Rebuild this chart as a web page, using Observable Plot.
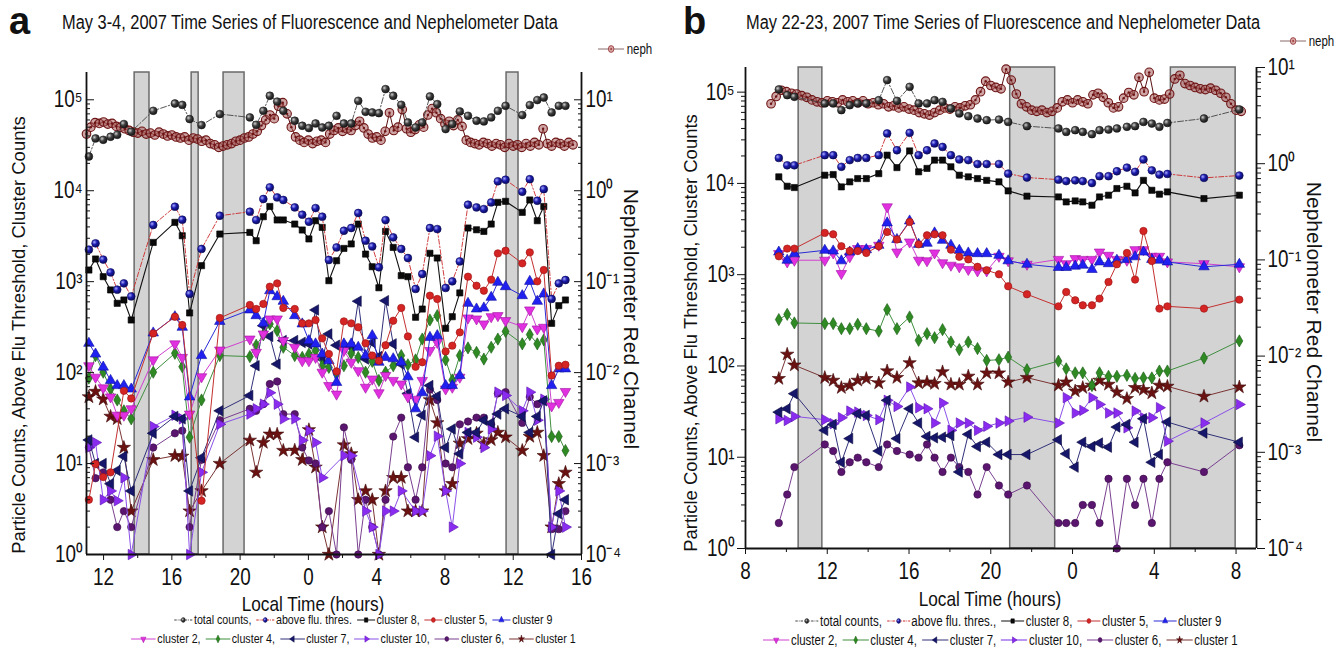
<!DOCTYPE html>
<html><head><meta charset="utf-8">
<script src="https://cdn.jsdelivr.net/npm/d3@7"></script>
<script src="https://cdn.jsdelivr.net/npm/@observablehq/plot@0.6"></script>
<style>
html,body{margin:0;padding:0;background:#fff;}
body{width:1344px;height:653px;position:relative;overflow:hidden;font-family:"Liberation Sans",Arial,sans-serif;color:#111;}
.abs{position:absolute;white-space:nowrap;line-height:1;}
.letter{font-weight:bold;font-size:38px;}
.title{font-size:20px;transform:scaleX(0.82);transform-origin:0 50%;}
.xlab{font-size:21px;}
.leg{display:flex;align-items:center;transform:translateX(-50%) scaleX(0.82);}
.leg .it{display:flex;align-items:center;margin-right:5px;}
.leg svg{margin-right:1px;}
</style></head><body>
<svg width="0" height="0" style="position:absolute">
<defs>
<radialGradient id="gSph" cx="35%" cy="35%" r="70%"><stop offset="0%" stop-color="#cfcfcf"/><stop offset="45%" stop-color="#404040"/><stop offset="100%" stop-color="#121212"/></radialGradient>
<radialGradient id="bSph" cx="35%" cy="35%" r="70%"><stop offset="0%" stop-color="#a8a8ff"/><stop offset="45%" stop-color="#1c1cb0"/><stop offset="100%" stop-color="#0a0a55"/></radialGradient>
</defs></svg>
<div id="pa" class="abs" style="left:0;top:0"></div>
<div id="pb" class="abs" style="left:672px;top:0"></div>
<script>
// ---------------- DATA: panel a (May 3-4) ----------------
const timeA = [11.14, 11.53, 11.98, 12.41, 12.80, 13.19, 13.62, 14.91, 16.18, 16.61, 17.04, 17.74, 18.81, 20.57, 20.94, 21.36, 21.74, 22.17, 22.53, 23.2, 23.64, 24.03, 24.42, 24.81, 25.2, 25.65, 26.08, 26.51, 26.92, 27.35, 27.74, 28.13, 28.52, 28.97, 29.44, 29.83, 30.28, 30.67, 31.12, 31.55, 32.04, 32.43, 32.87, 33.35, 33.85, 34.28, 34.71, 35.1, 35.55, 36.53, 36.97, 37.41, 37.79, 38.25, 38.67, 39.06];
const totalA = [23800, 37600, 36300, 39200, 41200, 54100, 44500, 75700, 91000, 87900, 61400, 52700, 69600, 64000, 53100, 75700, 110700, 95600, 75700, 58800, 51800, 48900, 54900, 49600, 51800, 66700, 54900, 54900, 97500, 73800, 72600, 71300, 131000, 110700, 88100, 56300, 49600, 56300, 108800, 89600, 47600, 54100, 74400, 66700, 58800, 57800, 64000, 75700, 85900, 67900, 87500, 99300, 106000, 72600, 85900, 85900];
const aboveA = [2250, 2640, 1750, 1265, 817, 958, 689, 4200, 6670, 4800, 733, 2290, 5310, 5880, 4760, 8110, 10900, 8450, 7910, 6560, 5450, 4560, 6450, 5180, 1730, 2380, 3630, 3890, 5690, 2820, 2440, 1440, 4760, 3070, 2290, 1820, 832, 1214, 3890, 3790, 853, 1008, 1670, 7020, 6560, 6290, 7440, 12700, 13200, 9750, 13400, 7760, 10400, 646, 958, 1043];
const c8A = [1343, 1775, 1135, 811, 578, 629, 379, 2700, 4490, 3200, 453, 1500, 3340, 3480, 2820, 5180, 6710, 4770, 4770, 4300, 3700, 2950, 4680, 3950, 1025, 1700, 2320, 2600, 4300, 2010, 1460, 857, 3570, 2380, 1165, 1135, 406, 500, 2050, 1820, 307, 412, 752, 3890, 3720, 3570, 4300, 7450, 7640, 5780, 7910, 4680, 6710, 348, 545, 629];
const c5A = [4, 9.9, 7.1, 8, null, 63, 52, 270, 412, 334, null, 3.9, 399, 555, 501, 569, 881, 958, 514, 501, 348, 348, 379, 238, 160, 103, 366, 348, 315, 210, 154, 135, 200, 372, 514, 250, 116, 130, 702, 645, 171, 198, 277, 1135, 903, 796, 1052, 2048, 2190, 1590, 2100, 1008, 1343, 93, 119, 122];
const c9A = [210, 160, 115, 82, 72, 72, 66, 273, 412, 315, 54, 154, 366, 489, 423, 350, 796, 684, 608, 423, 343, 225, 207, 160, 135, 78, 207, 207, 190, 154, 255, 130, 147, 142, 130, 90, 40, 60, 244, 255, 72, 72, 93, 578, 501, 514, 673, 984, 881, 702, 1008, 608, 733, 72, 110, 110];
const c2A = [119, 89, 68, 54, 34, 34, 40, 138, 207, 147, 35, 90, 177, 234, 167, 266, 389, 389, 225, 190, 135, 135, 147, 101, 72, 58, 175, 130, 105, 69, 85, 60, 93, 82, 75, 54, 51, 82, 175, 215, 66, 69, 89, 399, 389, 343, 412, 423, 373, 320, 489, 302, 315, 43, 47, 62];
const c4A = [87, 154, 101, 66, 50, 38, 31, 101, 163, 116, 19.5, 50, 154, 150, 200, 260, 343, 290, 190, 154, 147, 160, 175, 119, 114, 97, 119, 163, 147, 101, 133, 82, 101, 119, 154, 122, 138, 234, 379, 423, 138, 83, 154, 187, 167, 141, 190, 234, 284, 207, 262, 207, 229, 19.8, 19.8, 13.9];
const c7A = [18.2, 10, 10, 6, 8.4, 12, 5, 21.5, 33, 31, 5, 11.6, 38, 56, 119, 328, 250, 124, 225, 225, 215, 207, 489, 141, 266, 200, 190, 190, 610, 141, 215, 150, 618, 207, 124, 59, 19.5, 34, 72, 55, 15, 24, 12.8, 22, 22, 30, 28, 35, 40, 33, 22, 33, 49, 1, 2.8, 4];
const c10A = [15, 17, 4, 5, 3.9, 7, 1, 25.5, 34, 31, 1, 8, 27, 35, 40, 45, 60, 45, 31, 31, 18, 23, 17, 7, null, null, 12.2, 12.2, null, 3, 2, 1, 3, 3, 5, null, 3, 3, 12.2, 20, 5, 2, 10, 22, 19.5, 15, 24, 61, 56, 38, 61, 30, 51, 2, 5, 2];
const c6A = [15, 6.9, 8, 4, 2, 3, 2, 15, 21.5, 23, 2, 11, 30, 40, 38, 45, 75, 80, 35, 35, 15, 10.8, 10, 2, 3, 1, 25, 11, 1, 4, 2, 1, 4, 19.8, 32, 9.1, 4, 9.1, 65, 50, 10, 9.1, 27, 29, 32, 32, 27, 59, 61, 28, 54, 45, 50, 1.9, 1.9, 3];
const c1A = [54, 62, 51, 33, 31, 15, 3, 11, 12.2, 12, 3, 5, 10, 18, 8, 17, 21, 21, 13.9, 14, 11, 23.5, 9.1, 2, 1, null, 16, 12.8, 4, 5, 4, 1, 5, 7, 7, 3, 3, 3, 50, 28, 5, 6, 16.7, 18.7, 21.5, 16.7, 18.2, 22, 19.5, 13.9, 19.8, 22, 12.2, 2, 6, 8];
// nephelometer red channel [local hour, value]
const nephA = [[11.0,4.2],[11.25,5.0],[11.5,5.6],[11.75,5.5],[12.0,5.7],[12.25,5.4],[12.5,5.5],[12.75,5.1],[13.0,5.0],[13.25,4.8],[13.5,4.6],[13.75,4.4],[14.0,4.3],[14.25,4.5],[14.5,4.2],[14.75,4.3],[15.0,4.1],[15.25,4.4],[15.5,4.2],[15.75,4.0],[16.0,4.1],[16.25,3.9],[16.5,3.8],[16.75,3.9],[17.0,3.6],[17.25,3.8],[17.5,3.7],[17.75,3.5],[18.0,3.6],[18.25,3.3],[18.5,3.2],[18.75,3.0],[19.0,3.1],[19.25,3.2],[19.5,3.3],[19.75,3.5],[20.0,3.6],[20.25,3.8],[20.5,3.9],[20.75,4.2],[21.0,4.5],[21.25,5.2],[21.5,6.0],[21.75,6.8],[22.0,6.2],[22.25,8.5],[22.5,9.3],[22.75,7.0],[23.0,5.0],[23.25,3.9],[23.5,3.6],[23.75,3.4],[24.0,3.6],[24.25,3.3],[24.5,3.5],[24.75,3.6],[25.0,3.4],[25.25,4.2],[25.5,4.6],[25.75,4.9],[26.0,4.5],[26.25,4.8],[26.5,4.6],[26.75,5.2],[27.0,5.8],[27.25,4.9],[27.5,4.2],[27.75,3.8],[28.0,3.9],[28.25,3.6],[28.5,4.5],[28.75,7.2],[29.0,4.6],[29.25,5.0],[29.5,7.8],[29.75,4.8],[30.0,4.4],[30.25,4.7],[30.5,5.3],[30.75,5.0],[31.0,6.8],[31.25,8.0],[31.5,7.2],[31.75,6.2],[32.0,5.4],[32.25,5.8],[32.5,5.2],[32.75,6.0],[33.0,5.1],[33.25,3.6],[33.5,3.4],[33.75,3.3],[34.0,3.2],[34.25,3.4],[34.5,3.3],[34.75,3.1],[35.0,3.3],[35.25,3.2],[35.5,3.0],[35.75,3.3],[36.0,3.1],[36.25,3.2],[36.5,3.0],[36.75,3.3],[37.0,3.1],[37.25,3.4],[37.5,3.2],[37.75,4.8],[38.0,3.3],[38.25,3.1],[38.5,3.4],[38.75,3.3],[39.0,3.1],[39.25,3.4],[39.5,3.2]];
const bandsA = [[13.82,14.69],[17.16,17.57],[19.03,20.26],[35.61,36.31]];

// ---------------- DATA: panel b (May 22-23) ----------------
const timeB = [9.63, 10.04, 10.39, 11.88, 12.29, 12.69, 13.1, 13.49, 13.91, 14.52, 14.93, 15.41, 16.03, 16.47, 16.88, 17.25, 17.64, 18.05, 18.46, 18.9, 19.35, 19.8, 20.4, 20.85, 21.77, 23.31, 23.69, 24.13, 24.5, 24.95, 25.32, 25.76, 26.17, 26.66, 27.06, 27.47, 27.88, 28.25, 28.64, 30.43, 32.16];
const totalB = [107000, 92700, 88900, 75200, 75200, 63500, 71900, 75200, 75200, 81700, 135500, 80300, 114300, 75200, 75200, 81700, 78300, 66200, 58400, 54500, 51400, 49300, 50100, 47200, 42400, 40000, 36700, 38300, 36700, 34600, 38300, 38900, 40000, 41700, 42400, 47200, 45300, 41700, 46000, 51400, 64600];
const aboveB = [19000, 15800, 15800, 20400, 20400, 15200, 18000, 19000, 19000, 20400, 35300, 23100, 35800, 20400, 23100, 27400, 25100, 20400, 18300, 18000, 16300, 16300, 16300, 12800, 11600, 11000, 10600, 10800, 10600, 10100, 12000, 12000, 13600, 14900, 13400, 18300, 13900, 12500, 12700, 11500, 12200];
const c8B = [11800, 9310, 9010, 12300, 12500, 9160, 10400, 11300, 11300, 12800, 20400, 14900, 22700, 13400, 14600, 18000, 18000, 15200, 12300, 11800, 11300, 10800, 10400, 8280, 7250, 7110, 6270, 6430, 6270, 5770, 7110, 7430, 8790, 9310, 7870, 10800, 8410, 7620, 8070, 6820, 7430];
const c5B = [1590, 1930, 1930, 2870, 2770, 2050, 1820, 1820, 1730, 2050, 2940, 2430, 3780, 2150, 2700, 2770, 2700, 1880, 1570, 1470, 1220, 1120, 1010, 746, 610, 450, 646, 524, 462, 462, 547, 832, 1300, 1730, 883, 3010, 1410, 425, 450, 425, 533];
const c9B = [1770, 1440, 1700, 1850, 1820, 1420, 1770, 1930, 1880, 2100, 3690, 2430, 3880, 2150, 2210, 2870, 2380, 2100, 1850, 1730, 1700, 1700, 1630, 1420, 1300, 1200, 1200, 1240, 1270, 1140, 1380, 1320, 1440, 1470, 1570, 1770, 1470, 1440, 1380, 1220, 1300];
const c2B = [1700, 1380, 1440, 1440, 1730, 1030, 1570, 1930, 1930, 2100, 5540, 1770, 2280, 1440, 1420, 1730, 1350, 1270, 1220, 1140, 1100, 1100, 1590, 1420, 1300, 1470, 1320, 1500, 1470, 1470, 1770, 1630, 1470, 1440, 1880, 1880, 1590, 1590, 1380, 1320, 1220];
const c4B = [322, 368, 296, 291, 291, 256, 256, 286, 256, 241, 414, 256, 344, 191, 226, 204, 250, 183, 151, 183, 155, 115, 117, 125, 91, 113, 93, 84, 84, 61, 84, 77, 77, 79, 73, 74, 74, 88, 88, 122, 188];
const c7B = [31.2, 34, 49.7, 19.7, 22.9, 8.8, 16, 30, 28.7, 11.7, 42, 16, 34, 23.7, 16.9, 16.3, 16.6, 17.3, 6.9, 17.8, 13.1, 14.6, 10.7, 10.7, 10.7, 15.5, 10.9, 7.8, 14.6, 13.1, 14.3, 12.9, 21.4, 22.9, 14.6, 26.4, 8.8, 10.7, 24.3, 18.4, 14.6];
const c10B = [26.4, 25.3, 28, 25.8, 23.3, 27.1, 32, 31.2, 28.7, 25.8, 42, 36, 58.7, 34.9, 34, 23.7, 39.2, 19.7, 23.7, 23.7, 19.7, 21.8, 23.7, 24.9, 27.5, 23.7, 44.9, 30.5, 32.6, 44.9, 37.9, 30.5, 30.5, 21, 32, 27.1, 27.1, 34.9, 15, 23.7, 37.9];
const c6B = [1.9, 3.9, 7.8, 13.8, 11.7, 6.9, 8.8, 9.9, 8.8, 7.8, 13.8, 11.7, 10.7, 9.9, 13.8, 9.9, 6.9, 9.9, 7.8, 6.9, 3.9, 7.8, 4.9, 3.9, 4.9, 1.9, 1.9, 1.9, 3.0, 3.0, 1.9, 5.8, 1.0, 5.8, 3.0, 5.8, 1.9, 5.8, 8.8, 6.9, 13.5];
const c1B = [72.6, 134, 102, 74.5, 69.5, 57.8, 61.3, 69.5, 72.6, 65, 88, 74.5, 108, 65, 66.5, 64, 86, 62.8, 62.8, 77, 62.8, 83.6, 83.6, 66.5, 74.5, 61.3, 66.5, 53, 57.8, 61.3, 69.5, 62.8, 51.7, 43.8, 57.8, 55, 50.5, 61.3, 59.7, 46.4, 58.7];
const nephB = [[9.25,4.2],[9.5,5.0],[9.75,5.8],[10.0,5.6],[10.25,5.4],[10.5,5.3],[10.75,5.1],[11.0,4.9],[11.25,4.6],[11.5,4.4],[11.75,4.3],[12.0,4.5],[12.25,4.4],[12.5,4.3],[12.75,4.6],[13.0,4.4],[13.25,4.5],[13.5,4.3],[13.75,4.5],[14.0,4.2],[14.25,4.3],[14.5,4.1],[14.75,4.2],[15.0,3.9],[15.25,4.0],[15.5,3.8],[15.75,3.9],[16.0,3.7],[16.25,3.6],[16.5,3.4],[16.75,3.3],[17.0,3.2],[17.25,3.4],[17.5,3.6],[17.75,3.8],[18.0,3.7],[18.25,3.9],[18.5,3.8],[18.75,4.0],[19.0,4.1],[19.25,4.6],[19.5,5.6],[19.75,7.2],[20.0,6.5],[20.25,6.2],[20.5,6.0],[20.75,9.6],[21.0,7.4],[21.25,5.3],[21.5,4.2],[21.75,3.9],[22.0,3.6],[22.25,3.5],[22.5,3.6],[22.75,3.4],[23.0,3.5],[23.25,3.8],[23.5,4.4],[23.75,4.6],[24.0,4.3],[24.25,4.6],[24.5,4.4],[24.75,4.2],[25.0,5.2],[25.25,5.4],[25.5,4.9],[25.75,4.3],[26.0,3.8],[26.25,3.9],[26.5,4.8],[26.75,5.5],[27.0,5.2],[27.25,7.9],[27.5,5.6],[27.75,8.9],[28.0,4.8],[28.25,4.6],[28.5,4.7],[28.75,5.3],[29.0,7.6],[29.25,8.3],[29.5,6.8],[29.75,6.5],[30.0,6.2],[30.25,6.0],[30.5,5.9],[30.75,6.1],[31.0,5.8],[31.25,5.4],[31.5,4.9],[31.75,4.2],[32.0,3.6],[32.25,3.5]];
const bandsB = [[10.6,11.76],[20.95,23.15],[28.81,31.98]];

// text
const titleA = "May 3-4, 2007 Time Series of Fluorescence and Nephelometer Data";
const titleB = "May 22-23, 2007 Time Series of Fluorescence and Nephelometer Data";
const yTitle = "Particle Counts, Above Flu Threshold, Cluster Counts";
const rTitle = "Nephelometer Red Channel";
const xTitle = "Local Time (hours)";
const legRowsA = [[["total","total counts,"],["above","above flu. thres."],["c8","cluster 8,"],["c5","cluster 5,"],["c9","cluster 9"]],
                  [["c2","cluster 2,"],["c4","cluster 4,"],["c7","cluster 7,"],["c10","cluster 10,"],["c6","cluster 6,"],["c1","cluster 1"]]];
const legRowsB = [[["total","total counts,"],["above","above flu. thres.,"],["c8","cluster 8,"],["c5","cluster 5,"],["c9","cluster 9"]],
                  [["c2","cluster 2,"],["c4","cluster 4,"],["c7","cluster 7,"],["c10","cluster 10,"],["c6","cluster 6,"],["c1","cluster 1"]]];

// ---------------- styles ----------------
function triSym(angle){return {draw(ctx,size){const R=Math.sqrt(size/1.299);for(let k=0;k<3;k++){const a=angle+k*2*Math.PI/3;const x=R*Math.cos(a),y=R*Math.sin(a);if(k)ctx.lineTo(x,y);else ctx.moveTo(x,y);}ctx.closePath();}};}
const triUp=triSym(-Math.PI/2), triDown=triSym(Math.PI/2), triLeft=triSym(Math.PI), triRight=triSym(0);
const SERIES = [
 {key:"total", sym:"circle", r:3.9, fill:"url(#gSph)", stroke:"#1a1a1a", line:"#444", dash:"6,2,1.5,2", lw:0.9},
 {key:"above", sym:"circle", r:3.9, fill:"url(#bSph)", stroke:"#0c0c60", line:"#cc2a2a", dash:"5,2,1.5,2", lw:0.9},
 {key:"c8", sym:"square", r:3.5, fill:"#0a0a0a", stroke:"#000", line:"#111", lw:1.1},
 {key:"c5", sym:"circle", r:3.7, fill:"#d42424", stroke:"#9a1010", line:"#c43030", lw:1},
 {key:"c9", sym:triUp, r:3.9, fill:"#2020f0", stroke:"#1010a0", line:"#2a2ad8", lw:1},
 {key:"c2", sym:triDown, r:3.9, fill:"#e030e0", stroke:"#a010a0", line:"#d040d0", lw:1},
 {key:"c4", sym:"diamond", r:3.7, fill:"#2f8a24", stroke:"#1a5a14", line:"#3f8f3f", lw:1},
 {key:"c7", sym:triLeft, r:3.9, fill:"#16166a", stroke:"#0a0a40", line:"#30307a", lw:1},
 {key:"c10", sym:triRight, r:3.9, fill:"#8a2cf0", stroke:"#5a10b0", line:"#8a50e8", lw:1},
 {key:"c6", sym:"circle", r:3.7, fill:"#5a166e", stroke:"#3a0a4a", line:"#7a4090", lw:1},
 {key:"c1", sym:"star", r:4.2, fill:"#6a1212", stroke:"#400808", line:"#7a3434", lw:1}
];
const FONT = '"Liberation Sans",Arial,sans-serif';
const SUP = {"-":"\u207B","0":"\u2070","1":"\u00B9","2":"\u00B2","3":"\u00B3","4":"\u2074","5":"\u2075"};
const pow10 = k => "10" + String(k).split("").map(c=>SUP[c]).join("");

function buildPanel(cfg){
  const {times, vals, neph, bands, x0, x1, yTop, nephToY, rightK, xMajor, xMinor, ml, mr, mt, mb, yIn} = cfg;
  const marks = [];
  marks.push(Plot.rect(bands, {x1:d=>d[0], x2:d=>d[1], y1:1, y2:yTop, fill:"#d3d3d3", stroke:"#6a6a6a", strokeWidth:1.5}));
  const nd = neph.map(([t,v])=>({t, y:nephToY(v)}));
  marks.push(Plot.line(nd, {x:"t", y:"y", stroke:"#5a1010", strokeWidth:1}));
  marks.push(Plot.dot(nd, {x:"t", y:"y", r:4.3, fill:"#a65a5a", fillOpacity:0.55, stroke:"#6e1414", strokeWidth:1.1}));
  marks.push(Plot.dot(nd, {x:"t", y:"y", r:1.2, fill:"#6e1414"}));
  for (const s of SERIES.slice().reverse()){
    const arr = vals[s.key];
    const data = times.map((t,i)=>({t, v:arr[i]})).filter(d=>d.v!=null);
    marks.push(Plot.line(data, {x:"t", y:"v", stroke:s.line, strokeWidth:s.lw, strokeDasharray:s.dash}));
    marks.push(Plot.dot(data, {x:"t", y:"v", symbol:s.sym, r:s.r, fill:s.fill, stroke:s.stroke, strokeWidth:0.6}));
  }
  const yMaj=[], yMin=[];
  for(let k=0;k<=5;k++){ yMaj.push(10**k); for(let m=2;m<=9;m++){ if(m*10**k<=yTop) yMin.push(m*10**k);} }
  const rPos = k => 10**((k+4)*rightK);
  const rMaj=[], rMin=[];
  for(let k=-4;k<=1;k++){ if(rPos(k)<=yTop*1.0001) rMaj.push(rPos(k)); for(let m=2;m<=9;m++){ const p=10**((Math.log10(m)+k+4)*rightK); if(p<yTop) rMin.push(p);} }
  const sgn = yIn ? -1 : 1, pad = yIn ? 12 : 3;
  marks.push(Plot.axisX(xMajor, {tickSize:6, tickPadding:8, tickFormat:d=>String(d%24), label:null}));
  marks.push(Plot.axisX(xMinor, {tickSize:4, tickFormat:()=>"", label:null}));
  marks.push(Plot.axisY(yMaj, {anchor:"left", tickSize:8*sgn, tickPadding:pad, tickFormat:d=>pow10(Math.round(Math.log10(d))), label:null}));
  marks.push(Plot.axisY(yMin, {anchor:"left", tickSize:4*sgn, tickFormat:()=>"", label:null}));
  marks.push(Plot.axisY(rMaj, {anchor:"right", tickSize:8*sgn, tickPadding:pad, tickFormat:d=>pow10(Math.round(Math.log10(d)/rightK-4)), label:null}));
  marks.push(Plot.axisY(rMin, {anchor:"right", tickSize:4*sgn, tickFormat:()=>"", label:null}));
  marks.push(Plot.ruleX([x0,x1], {y1:1, y2:yTop, stroke:"#111", strokeWidth:1.8}));
  marks.push(Plot.ruleY([1], {x1:x0, x2:x1, stroke:"#111", strokeWidth:1.8}));
  return Plot.plot({
    width:672, height:653, marginLeft:ml, marginRight:mr, marginTop:mt, marginBottom:mb,
    x:{domain:[x0,x1], axis:null, label:null},
    y:{type:"log", domain:[1,yTop], axis:null, label:null},
    style:{fontFamily:FONT, fontSize:"23px", color:"#111", background:"transparent", overflow:"visible"},
    marks
  });
}
// condensed look of the original's labels: compress glyphs horizontally once rendered
function condense(svg){
  svg.querySelectorAll("text").forEach(t=>{
    if(!t.textContent) return;
    const L = t.getComputedTextLength();
    if(L>0){ t.setAttribute("textLength",(L*0.82).toFixed(2)); t.setAttribute("lengthAdjust","spacingAndGlyphs"); }
  });
}

const valsA = {total:totalA, above:aboveA, c8:c8A, c5:c5A, c9:c9A, c2:c2A, c4:c4A, c7:c7A, c10:c10A, c6:c6A, c1:c1A};
const valsB = {total:totalB, above:aboveB, c8:c8B, c5:c5B, c9:c9B, c2:c2B, c4:c4B, c7:c7B, c10:c10B, c6:c6B, c1:c1B};
const yTopA = 10**5.3, yTopB = 10**5.27;
const svgA = buildPanel({
  times:timeA, vals:valsA, neph:nephA, bands:bandsA, x0:11, x1:40, yTop:yTopA,
  nephToY:v=>v*1e4, rightK:1, xMajor:[12,16,20,24,28,32,36,40], xMinor:[14,18,22,26,30,34,38],
  ml:86, mr:91, mt:72, mb:99, yIn:true});
document.getElementById("pa").appendChild(svgA); condense(svgA);
const kB = 5.27/5;
const svgB = buildPanel({
  times:timeB, vals:valsB, neph:nephB, bands:bandsB, x0:8, x1:33, yTop:yTopB,
  nephToY:v=>10**((Math.log10(v)+4)*kB), rightK:kB, xMajor:[8,12,16,20,24,28,32], xMinor:[10,14,18,22,26,30],
  ml:73, mr:88, mt:67, mb:105, yIn:false});
document.getElementById("pb").appendChild(svgB); condense(svgB);

// ---------------- HTML text / legends ----------------
function add(html, style, cls){ const d=document.createElement("div"); d.className="abs "+(cls||""); d.setAttribute("style",style); d.innerHTML=html; document.body.appendChild(d); return d; }
function symType(s){ if(typeof s==="object") return s; return {circle:d3.symbolCircle, square:d3.symbolSquare, diamond:d3.symbolDiamond, star:d3.symbolStar}[s]; }
function swatch(s, w){
  const svg = d3.create("svg").attr("width",w).attr("height",10);
  svg.append("line").attr("x1",1).attr("x2",w-1).attr("y1",5).attr("y2",5).attr("stroke",s.line).attr("stroke-width",1.2).attr("stroke-dasharray",s.dash?"3,1.2,1,1.2":null);
  svg.append("path").attr("transform",`translate(${w/2},5)`).attr("d",d3.symbol(symType(s.sym), Math.PI*2.4*2.4)()).attr("fill",s.fill).attr("stroke",s.stroke).attr("stroke-width",0.5);
  return svg.node();
}
function legend(rows, cx, ys, fs, sw){
  rows.forEach((row,ri)=>{
    const d = add("", `left:${cx[ri]}px;top:${ys[ri]}px;font-size:${fs}px`, "leg");
    row.forEach(([key,label])=>{
      const it=document.createElement("span"); it.className="it";
      it.appendChild(swatch(SERIES.find(s=>s.key===key), sw[ri]));
      const tx=document.createElement("span"); tx.textContent=label; it.appendChild(tx);
      d.appendChild(it);
    });
  });
}
function nephLegend(x,y){
  const d = add("", `left:${x}px;top:${y}px;display:flex;align-items:center;font-size:14px;transform:scaleX(0.82);transform-origin:0 50%`);
  const svg = d3.create("svg").attr("width",32).attr("height",12);
  svg.append("line").attr("x1",0).attr("x2",32).attr("y1",6).attr("y2",6).attr("stroke","#8a6a6a").attr("stroke-width",1.2);
  svg.append("circle").attr("cx",16).attr("cy",6).attr("r",3.4).attr("fill","#d9a3a3").attr("stroke","#8a2828").attr("stroke-width",0.8);
  svg.append("circle").attr("cx",16).attr("cy",6).attr("r",1).attr("fill","#8a2828");
  d.appendChild(svg.node());
  const t=document.createElement("span"); t.textContent="neph"; t.style.marginLeft="3px"; d.appendChild(t);
}
// panel a
add("a","left:9px;top:2px","letter");
add(titleA,"left:62px;top:12px","title");
nephLegend(598,42);
add(yTitle,"left:19px;top:335px;font-size:18.5px;transform:translate(-50%,-50%) rotate(-90deg)");
add(rTitle,"left:631px;top:319px;font-size:21px;transform:translate(-50%,-50%) rotate(90deg)");
add(xTitle,"left:313px;top:603px;transform:translate(-50%,-50%) scaleX(0.82)","xlab");
legend(legRowsA,[365,355],[613,632],13,[24,32]);
// panel b
add("b","left:683px;top:2px","letter");
add(titleB,"left:746px;top:12px","title");
nephLegend(1280,34);
add(yTitle,"left:691px;top:333px;font-size:18.5px;transform:translate(-50%,-50%) rotate(-90deg)");
add(rTitle,"left:1314px;top:312px;font-size:21px;transform:translate(-50%,-50%) rotate(90deg)");
add(xTitle,"left:990px;top:598px;transform:translate(-50%,-50%) scaleX(0.82)","xlab");
legend(legRowsB,[1010,1002],[614,633],14,[30,34]);
</script>
</body></html>
